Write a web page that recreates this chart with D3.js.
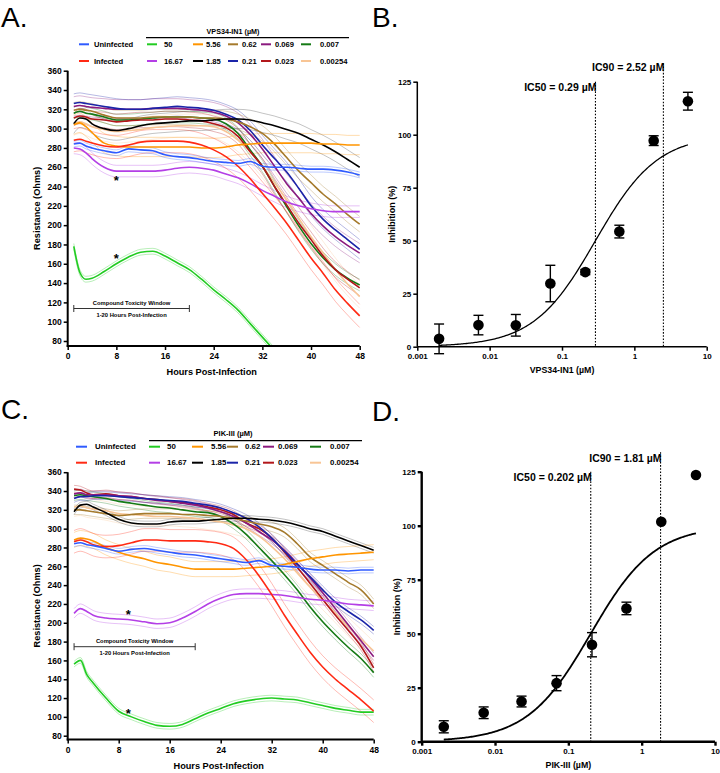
<!DOCTYPE html>
<html><head><meta charset="utf-8">
<script src="https://cdn.jsdelivr.net/npm/d3@7"></script>
<style>
body{margin:0;background:#fff}
svg{display:block}
text{font-family:"Liberation Sans",Arial,sans-serif}
</style>
</head><body>
<svg id="c" width="720" height="773"></svg>
<script>
// ---------------- DATA ----------------
const hours = [1,2,3,4,6,8,10,12,14,16,18,20,22,24,26,28,30,32,34,36,38,40,42,44,46,48];
const seriesNames = ["Uninfected","Infected","50","16.67","5.56","1.85","0.62","0.21","0.069","0.023","0.007","0.00254"];
const seriesColors = ["#2f5bff","#ff2a14","#22cc22","#b43fe6","#ff9500","#000000","#a57a2c","#1b24a8","#8b1a7e","#b2171b","#157a15","#f8c595"];
const xTicksHours = [0,8,16,24,32,40,48];
const yTicksOhms = [80,100,120,140,160,180,200,220,240,260,280,300,320,340,360];

// Panel A (VPS34-IN1) mean resistance
const aUninfected = [284,285,282,280,277,275,279,278,277,273,271,270,268,266,265,264,266,261,260,260,259,258,258,257,255,252];
const aInfected   = [288,289,287,285,282,281,283,286,287,287,287,286,283,278,271,261,248,233,218,202,184,166,150,133,119,106];
const a50         = [178,151,144,145,152,160,167,172,173,168,161,154,144,133,123,112,98,84,70,null,null,null,null,null,null,null];
const a16_67      = [280,279,275,269,260,256,256,256,256,257,259,260,259,257,253,249,243,236,230,224,220,217,215,214,214,214];
const a5_56       = [304,306,302,296,285,282,281,281,281,281,281,281,280,280,281,283,284,285,285,285,285,285,284,284,283,283];
const a1_85       = [305,311,310,305,300,298,300,303,305,306,307,308,308,309,310,310,309,306,303,299,295,289,283,276,268,260];
const a0_62       = [319,320,319,318,314,311,311,311,312,312,312,312,311,311,310,307,302,295,284,270,256,244,232,222,211,201];
const a0_21       = [326,327,326,325,323,321,320,320,321,322,323,322,321,319,315,309,298,283,269,255,238,220,206,195,185,175];
const a0_069      = [323,324,323,322,321,320,320,320,321,321,321,320,319,317,313,306,294,279,261,243,228,212,199,188,179,171];
const a0_023      = [311,313,312,310,309,307,308,309,309,310,310,309,308,305,301,292,276,261,240,221,202,185,168,154,144,135];
const a0_007      = [316,318,316,315,312,309,309,310,311,312,312,312,311,310,305,295,278,261,240,219,199,181,166,154,145,138];
const a0_00254    = [305,307,305,302,299,297,298,299,301,302,303,303,303,302,297,288,276,261,244,226,207,188,171,154,139,126];
const sdA         = [3,12,3,6,10,10,8,10,10,8,6,12];

// Panel C (PIK-III) mean resistance
const cUninfected = [284,285,283,282,279,276,278,279,277,275,273,272,270,268,266,264,266,261,260,259,257,256,256,255,256,256];
const cInfected   = [286,288,286,283,281,282,285,288,288,287,287,287,286,284,279,267,250,230,208,188,169,153,140,129,118,106];
const c50         = [156,160,145,136,120,106,100,95,91,90,92,98,104,109,114,117,119,120,119,118,115,112,109,107,105,105];
const c16_67      = [210,215,212,208,205,204,203,201,199,200,205,212,220,226,230,231,231,230,229,227,225,224,222,220,219,218];
const c5_56       = [288,290,289,287,280,275,271,268,264,262,259,257,257,257,257,258,259,260,262,265,268,270,272,273,274,275];
const c1_85       = [318,325,326,323,317,310,306,305,305,307,308,308,309,310,311,311,310,309,307,304,300,297,292,287,282,277];
const c0_62       = [320,320,319,318,316,314,315,316,316,316,315,315,314,313,311,308,305,302,296,284,270,261,252,243,235,220];
const c0_21       = [332,334,334,335,335,334,333,332,331,330,329,327,325,322,317,311,302,290,276,262,249,235,222,212,203,192];
const c0_069      = [337,338,336,336,336,335,334,332,330,329,327,325,322,318,313,306,297,288,277,263,248,232,215,198,181,164];
const c0_023      = [342,341,338,336,337,335,334,332,331,329,328,326,323,320,315,306,300,290,275,259,242,225,208,192,175,152];
const c0_007      = [335,336,335,334,332,329,327,325,323,322,320,318,317,313,305,294,280,266,251,235,217,201,187,174,162,147];
const c0_00254    = [323,324,322,321,319,316,315,314,313,313,312,311,309,307,304,300,292,281,268,253,238,224,210,196,183,170];
const sdC         = [3,12,3,5,8,3,5,4,4,4,5,10];

// Dose-response
const doses = [0.002,0.007,0.023,0.069,0.21,0.62,1.85,5.5];
const xTicksDose = [0.001,0.01,0.1,1,10];
const yTicksInh = [0,25,50,75,100,125];
const inhB = [3.7,10.2,10.1,29.8,35.2,54.3,97.2,115.8];
const errB = [7,4.6,5.1,8.6,1.2,3,2.3,4.2];
const ic50B = 0.29, ic90B = 2.52;
const inhD = [6.9,13.4,18.6,27.1,44.9,61.7,101.8,123.5];
const errD = [2.8,2.7,2.5,3.5,5.6,2.9,0,0];
const ic50D = 0.202, ic90D = 1.81;

// ---------------- DRAW ----------------
const svg = d3.select("#c");
const drawOrder = [11,10,9,8,7,6,5,4,3,2,1,0];

function styleAxis(g, fs, sw){
  g.selectAll("text").attr("font-family","Liberation Sans, Arial, sans-serif")
    .attr("font-size",fs).attr("font-weight","bold").attr("fill","#000");
  g.selectAll("line").attr("stroke","#000").attr("stroke-width",sw);
  g.select(".domain").remove();
}

function letter(t,x,y){
  svg.append("text").attr("x",x).attr("y",y).attr("font-size",28).text(t);
}

function tcPanel(cfg){
  const {x,y,data,sds,clip,axisY,annY,stars,legend} = cfg;
  const g = svg.append("g");
  const x0 = x.range()[0], x1 = x.range()[1], yTop = y(360);
  svg.append("clipPath").attr("id",clip).append("rect")
    .attr("x",x0).attr("y",yTop-15).attr("width",x1-x0+1).attr("height",axisY-yTop+15);
  const pg = g.append("g").attr("clip-path",`url(#${clip})`);
  const line = d3.line().defined(d=>d[1]!=null).x(d=>x(d[0])).y(d=>y(d[1])).curve(d3.curveMonotoneX);
  drawOrder.forEach(i=>{
    [1,-1].forEach(s=>{
      pg.append("path").datum(hours.map((h,k)=>[h, data[i][k]==null?null:data[i][k]+s*sds[i]]))
        .attr("d",line).attr("fill","none").attr("stroke",seriesColors[i])
        .attr("stroke-opacity",i===5?0.3:0.4).attr("stroke-width",0.8);
    });
  });
  drawOrder.forEach(i=>{
    pg.append("path").datum(hours.map((h,k)=>[h,data[i][k]]))
      .attr("d",line).attr("fill","none").attr("stroke",seriesColors[i]).attr("stroke-width",1.6);
  });
  // axes
  const xa = g.append("g").attr("transform",`translate(0,${axisY})`)
    .call(d3.axisBottom(x).tickValues(xTicksHours).tickSize(4).tickSizeOuter(0).tickPadding(3));
  styleAxis(xa,8.5,1.5);
  const ya = g.append("g").attr("transform",`translate(${x0},0)`)
    .call(d3.axisLeft(y).tickValues(yTicksOhms).tickSize(4).tickSizeOuter(0).tickPadding(2));
  styleAxis(ya,8.5,1.5);
  g.append("line").attr("x1",x0).attr("x2",x0).attr("y1",yTop).attr("y2",axisY+1).attr("stroke","#000").attr("stroke-width",2);
  g.append("line").attr("x1",x0-1).attr("x2",x1).attr("y1",axisY).attr("y2",axisY).attr("stroke","#000").attr("stroke-width",2);
  g.append("text").attr("x",(x0+x1)/2-2).attr("y",axisY+29).attr("text-anchor","middle")
    .attr("font-size",9.2).attr("font-weight","bold").text("Hours Post-Infection");
  g.append("text").attr("transform",`translate(${x0-28},${(yTop+axisY)/2}) rotate(-90)`).attr("text-anchor","middle")
    .attr("font-size",9.2).attr("font-weight","bold").text("Resistance (Ohms)");
  // toxicity window
  const bx1 = x(1), bx2 = x(20);
  g.append("line").attr("x1",bx1).attr("x2",bx2).attr("y1",annY).attr("y2",annY).attr("stroke","#333").attr("stroke-width",1);
  [bx1,bx2].forEach(bx=>g.append("line").attr("x1",bx).attr("x2",bx).attr("y1",annY-3.5).attr("y2",annY+3.5).attr("stroke","#333").attr("stroke-width",1));
  g.append("text").attr("x",(bx1+bx2)/2).attr("y",annY-4).attr("text-anchor","middle").attr("font-size",5.8).attr("font-weight","bold").text("Compound Toxicity Window");
  g.append("text").attr("x",(bx1+bx2)/2).attr("y",annY+8).attr("text-anchor","middle").attr("font-size",5.8).attr("font-weight","bold").text("1-20 Hours Post-Infection");
  stars.forEach(s=>g.append("text").attr("x",x(s[0])).attr("y",y(s[1])).attr("text-anchor","middle")
    .attr("font-size",13).attr("font-weight","bold").text("*"));
  // legend
  const L = legend;
  g.append("text").attr("x",L.titleX).attr("y",L.titleY).attr("text-anchor","middle").attr("font-size",L.fs).attr("font-weight","bold").text(L.title);
  g.append("line").attr("x1",L.ulX1).attr("x2",L.ulX2).attr("y1",L.ulY).attr("y2",L.ulY).attr("stroke","#000").attr("stroke-width",1.3);
  const rows = [[0,2,4,6,8,10],[1,3,5,7,9,11]];
  rows.forEach((r,ri)=>{
    const ry = L.rowY[ri];
    r.forEach((si,ci)=>{
      g.append("line").attr("x1",L.lineX[ci]).attr("x2",L.lineX[ci]+L.lineLen).attr("y1",ry).attr("y2",ry)
        .attr("stroke",seriesColors[si]).attr("stroke-width",2);
      g.append("text").attr("x",L.textX[ci]).attr("y",ry).attr("dy","0.35em").attr("font-size",L.fs+0.4)
        .attr("font-weight","bold").text(seriesNames[si]);
    });
  });
}

function drPanel(cfg){
  const {x,y,inh,err,ic50,ic90,xlabel,axisW,lbl50Y,lbl90Y,top90} = cfg;
  const g = svg.append("g");
  const x0 = x.range()[0], x1 = x.range()[1], yb = y(0);
  // IC lines
  [[ic50,125,lbl50Y,"IC50 = "+ic50+" µM"],[ic90,top90,lbl90Y,"IC90 = "+ic90+" µM"]].forEach(d=>{
    g.append("line").attr("x1",x(d[0])).attr("x2",x(d[0])).attr("y1",y(d[1])).attr("y2",yb)
      .attr("stroke","#000").attr("stroke-width",1.1).attr("stroke-dasharray","1.6,1.6");
    g.append("text").attr("x",x(d[0])+1).attr("y",d[2]).attr("text-anchor","end").attr("font-size",10.5)
      .attr("font-weight","bold").text(d[3]);
  });
  // fit curve (4PL from reported IC50/IC90)
  const hill = Math.log(9)/Math.log(ic90/ic50);
  const lo = Math.log10(doses[0]), hi = Math.log10(doses[doses.length-1]);
  const pts = d3.range(0,201).map(i=>{const c = Math.pow(10, lo+(hi-lo)*i/200); return [c, 100/(1+Math.pow(ic50/c,hill))];});
  g.append("path").datum(pts).attr("d",d3.line().x(d=>x(d[0])).y(d=>y(d[1])))
    .attr("fill","none").attr("stroke","#000").attr("stroke-width",axisW===1.5?1.3:1.8);
  // error bars + points
  doses.forEach((c,i)=>{
    if(err[i]>0){
      const cx = x(c);
      g.append("line").attr("x1",cx).attr("x2",cx).attr("y1",y(inh[i]-err[i])).attr("y2",y(inh[i]+err[i])).attr("stroke","#000").attr("stroke-width",1.4);
      [inh[i]-err[i],inh[i]+err[i]].forEach(v=>g.append("line").attr("x1",cx-5).attr("x2",cx+5).attr("y1",y(v)).attr("y2",y(v)).attr("stroke","#000").attr("stroke-width",1.4));
    }
    g.append("circle").attr("cx",x(c)).attr("cy",y(inh[i])).attr("r",5.3).attr("fill","#000");
  });
  const xa = g.append("g").attr("transform",`translate(0,${yb})`)
    .call(d3.axisBottom(x).tickValues(xTicksDose).tickFormat(d=>String(d)).tickSize(4).tickSizeOuter(0).tickPadding(3));
  styleAxis(xa,8,axisW);
  const ya = g.append("g").attr("transform",`translate(${x0},0)`)
    .call(d3.axisLeft(y).tickValues(yTicksInh).tickSize(4).tickSizeOuter(0).tickPadding(2));
  styleAxis(ya,8,axisW);
  g.append("line").attr("x1",x0).attr("x2",x0).attr("y1",y(125)).attr("y2",yb).attr("stroke","#000").attr("stroke-width",axisW);
  g.append("line").attr("x1",x0).attr("x2",x1).attr("y1",yb).attr("y2",yb).attr("stroke","#000").attr("stroke-width",axisW);
  g.append("text").attr("x",x(0.1)).attr("y",yb+26).attr("text-anchor","middle").attr("font-size",8.8).attr("font-weight","bold").text(xlabel);
  g.append("text").attr("transform",`translate(${x0-22},${(y(125)+yb)/2}) rotate(-90)`).attr("text-anchor","middle")
    .attr("font-size",9).attr("font-weight","bold").text("Inhibition (%)");
}

// Panel A
tcPanel({
  x: d3.scaleLinear().domain([0,48]).range([67.7,359.7]),
  y: d3.scaleLinear().domain([80,360]).range([341,70.7]),
  data: [aUninfected,aInfected,a50,a16_67,a5_56,a1_85,a0_62,a0_21,a0_069,a0_023,a0_007,a0_00254],
  sds: sdA, clip:"clipA", axisY:346, annY:308.5,
  stars:[[8,242],[8,161]],
  legend:{title:"VPS34-IN1 (µM)", titleX:233, titleY:34, fs:7.2, ulX1:146, ulX2:349, ulY:37.7,
    rowY:[44.3,61], lineX:[79,147,193,228,261,301], lineLen:10, textX:[94,164,206,242,275,320]}
});
// Panel C
tcPanel({
  x: d3.scaleLinear().domain([0,48]).range([67.7,373.7]),
  y: d3.scaleLinear().domain([80,360]).range([735.7,472.2]),
  data: [cUninfected,cInfected,c50,c16_67,c5_56,c1_85,c0_62,c0_21,c0_069,c0_023,c0_007,c0_00254],
  sds: sdC, clip:"clipC", axisY:739.5, annY:646.7,
  stars:[[9.5,204],[9.5,99]],
  legend:{title:"PIK-III (µM)", titleX:233, titleY:436, fs:7.5, ulX1:149, ulX2:362, ulY:440.7,
    rowY:[446.7,462.7], lineX:[76,149,192,227,263,310], lineLen:11, textX:[95,167,211,245,278,330]}
});
// Panel B
drPanel({
  x: d3.scaleLog().domain([0.001,10]).range([417.3,706.7]),
  y: d3.scaleLinear().domain([0,125]).range([346.7,81.7]),
  inh: inhB, err: errB, ic50: ic50B, ic90: ic90B, xlabel:"VPS34-IN1 (µM)", axisW:1.5,
  lbl50Y:90.5, lbl90Y:70.5, top90:133.7
});
// Panel D
drPanel({
  x: d3.scaleLog().domain([0.001,10]).range([421.7,715]),
  y: d3.scaleLinear().domain([0,125]).range([741.7,471.7]),
  inh: inhD, err: errD, ic50: ic50D, ic90: ic90D, xlabel:"PIK-III (µM)", axisW:2.4,
  lbl50Y:481, lbl90Y:462, top90:134
});

letter("A.",1,27); letter("B.",372,27); letter("C.",1,419); letter("D.",372,421);
</script>
</body></html>
